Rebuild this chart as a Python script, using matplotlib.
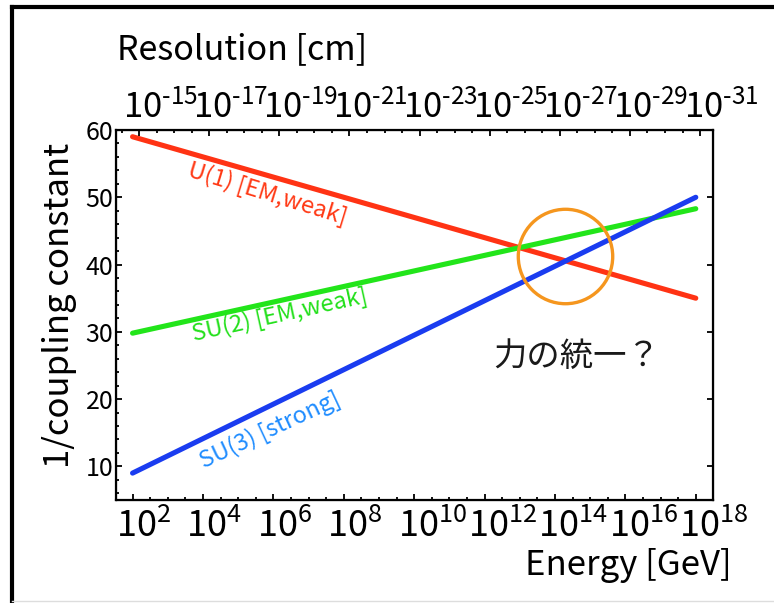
import numpy as np
import matplotlib
matplotlib.use('Agg')
import matplotlib.pyplot as plt
from matplotlib.lines import Line2D
from matplotlib.transforms import ScaledTranslation
from matplotlib.ticker import FixedLocator, NullFormatter

plt.rcParams['font.family'] = ['Noto Sans CJK JP', 'DejaVu Sans']
plt.rcParams['mathtext.fontset'] = 'custom'
plt.rcParams['mathtext.rm'] = 'Noto Sans CJK JP'
plt.rcParams['mathtext.it'] = 'Noto Sans CJK JP'
plt.rcParams['mathtext.bf'] = 'Noto Sans CJK JP'

# data
energy_exp = [2, 18]          # log10(E / GeV) at line ends
u1 = [59.0, 35.0]
su2 = [29.8, 48.3]
su3 = [9.0, 50.0]
bottom_exps = [2, 4, 6, 8, 10, 12, 14, 16, 18]
top_exps = [-15, -17, -19, -21, -23, -25, -27, -29, -31]
y_ticks = [10, 20, 30, 40, 50, 60]
unif_exp, unif_val = 14.29, 41.3

energy = [10.0**e for e in energy_exp]

fig = plt.figure(figsize=(7.74, 6.03), dpi=100)
ax = fig.add_axes([0.1499, 0.1708, 0.7713, 0.6136])

ax.plot(energy, u1, color='#ff3314', lw=3.7, solid_capstyle='round')
ax.plot(energy, su2, color='#22e51a', lw=3.7, solid_capstyle='round')
ax.plot(energy, su3, color='#1a3cf0', lw=3.7, solid_capstyle='round')

# unification circle
ax.plot([10**unif_exp], [unif_val], 'o', ms=68, mfc='none', mec='#f5961e', mew=2.4)

ax.text(10**5.82, 50.6, 'U(1) [EM,weak]', color='#ff3814', fontsize=17,
        rotation=-17, ha='center', va='center', rotation_mode='anchor')
ax.text(10**6.19, 32.5, 'SU(2) [EM,weak]', color='#22e01a', fontsize=17,
        rotation=12.5, ha='center', va='center', rotation_mode='anchor')
ax.text(10**5.91, 15.4, 'SU(3) [strong]', color='#1e8cff', fontsize=17,
        rotation=25, ha='center', va='center', rotation_mode='anchor')
ax.text(10**14.63, 26.4, '力の統一？', color='#1a1a1a', fontsize=24,
        ha='center', va='center')

ax.set_xscale('log')
ax.set_xlim(10**1.53, 10**18.49)
ax.set_ylim(5, 60)

ax.xaxis.set_major_locator(FixedLocator([10.0**e for e in bottom_exps]))
ax.xaxis.set_minor_locator(FixedLocator([10.0**(k / 2) for k in range(3, 38)]))
ax.xaxis.set_minor_formatter(NullFormatter())
ax.set_xticklabels([r'$10^{%d}$' % e for e in bottom_exps], fontsize=26, ha='left')
ax.set_yticks(y_ticks)
ax.set_yticks(np.arange(6, 60, 2), minor=True)
ax.tick_params(axis='y', labelsize=18, pad=2)
ax.tick_params(which='both', direction='in', width=1.4, color='#111111')
ax.tick_params(which='major', length=4)
ax.tick_params(which='minor', length=2.5)
ax.tick_params(axis='x', pad=6)
ax.tick_params(axis='y', right=True)

for sp in ax.spines.values():
    sp.set_linewidth(1.6)

shift = ScaledTranslation(-16.5 / 100, 0, fig.dpi_scale_trans)
for lab in ax.get_xticklabels():
    lab.set_transform(lab.get_transform() + shift)

ax.set_xlabel('Energy [GeV]', fontsize=25, ha='right', va='center')
ax.xaxis.set_label_coords(1.032, -0.178)
ax.set_ylabel('1/coupling constant', fontsize=25, va='center')
ax.yaxis.set_label_coords(-0.094, 0.527)

# top axis: resolution
ax2 = ax.twiny()
ax2.set_xscale('log')
ax2.set_xlim(10**-14.34, 10**-31.37)
ax2.xaxis.set_major_locator(FixedLocator([10.0**e for e in top_exps]))
ax2.xaxis.set_minor_locator(FixedLocator([10.0**(-k / 2) for k in range(29, 63)]))
ax2.xaxis.set_minor_formatter(NullFormatter())
ax2.set_xticklabels([r'$10^{\text{%d}}$' % e for e in top_exps], fontsize=25, ha='left')
ax2.tick_params(which='both', direction='in', width=1.4, color='#111111', pad=3)
ax2.tick_params(which='major', length=4)
ax2.tick_params(which='minor', length=2.5)
for lab in ax2.get_xticklabels():
    lab.set_transform(lab.get_transform() + shift)
ax2.set_xlabel('Resolution [cm]', fontsize=24.5, ha='left', va='center')
ax2.xaxis.set_label_coords(0.002, 1.216)

# slide frame
fig.add_artist(Line2D([0.0155, 0.0155], [0.0, 0.988], transform=fig.transFigure,
                      color='black', lw=3))
fig.add_artist(Line2D([0.0155, 1.0], [0.988, 0.988], transform=fig.transFigure,
                      color='black', lw=3))
fig.add_artist(Line2D([0.0155, 1.0], [0.003, 0.003], transform=fig.transFigure,
                      color='#dddddd', lw=1))

fig.savefig('out.png', dpi=100)
